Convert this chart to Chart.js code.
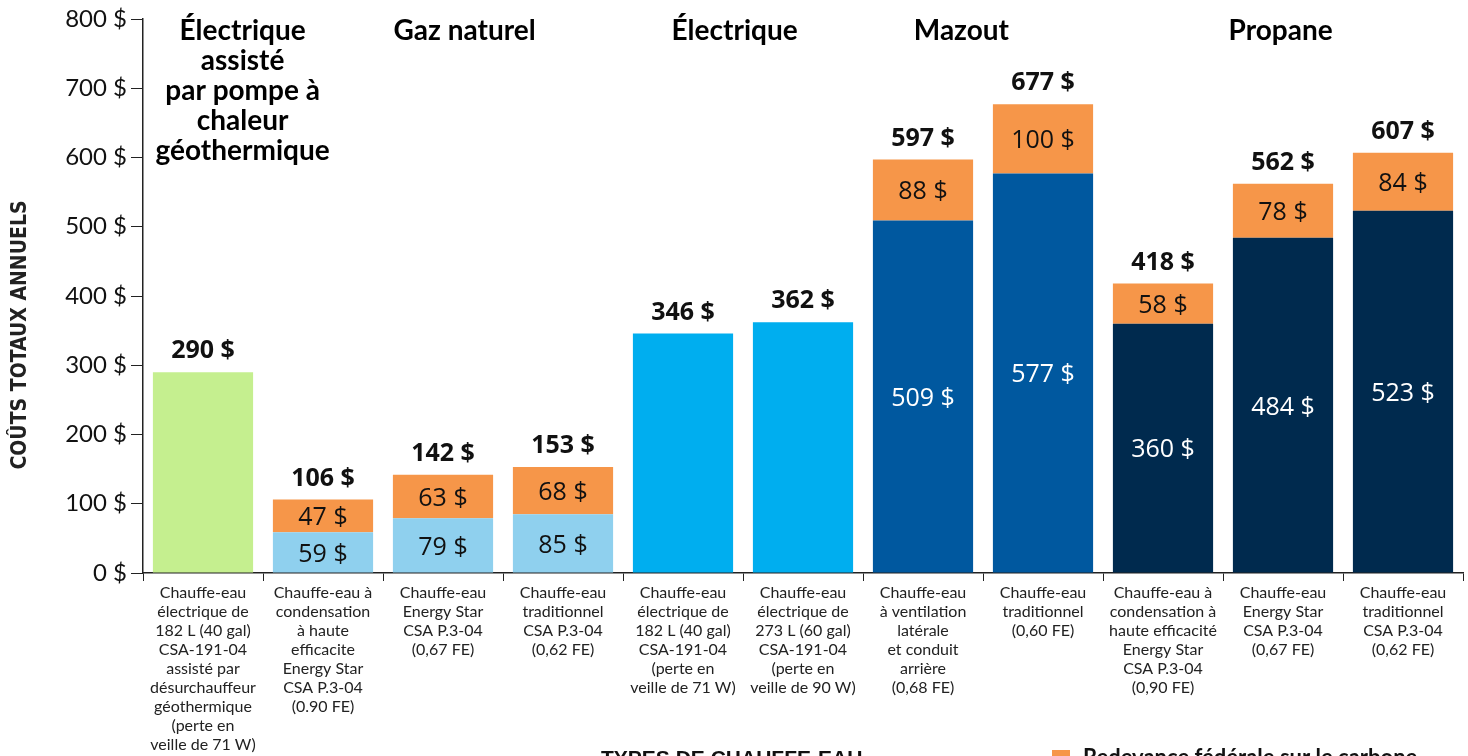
<!DOCTYPE html>
<html>
<head>
<meta charset="utf-8">
<script src="https://cdn.jsdelivr.net/npm/chart.js@4/dist/chart.umd.min.js"></script>
<style>
  html, body { margin: 0; padding: 0; background: #fff; }
  #wrap { width: 1468px; height: 756px; position: relative; }
</style>
</head>
<body>
<div id="wrap"><canvas id="chart"></canvas></div>
<script>
// data
const categories = [
  ["Chauffe-eau", "électrique de", "182 L (40 gal)", "CSA-191-04", "assisté par", "désurchauffeur", "géothermique", "(perte en", "veille de 71 W)"],
  ["Chauffe-eau à", "condensation", "à haute", "efficacite", "Energy Star", "CSA P.3-04", "(0.90 FE)"],
  ["Chauffe-eau", "Energy Star", "CSA P.3-04", "(0,67 FE)"],
  ["Chauffe-eau", "traditionnel", "CSA P.3-04", "(0,62 FE)"],
  ["Chauffe-eau", "électrique de", "182 L (40 gal)", "CSA-191-04", "(perte en", "veille de 71 W)"],
  ["Chauffe-eau", "électrique de", "273 L (60 gal)", "CSA-191-04", "(perte en", "veille de 90 W)"],
  ["Chauffe-eau", "à ventilation", "latérale", "et conduit", "arrière", "(0,68 FE)"],
  ["Chauffe-eau", "traditionnel", "(0,60 FE)"],
  ["Chauffe-eau à", "condensation à", "haute efficacité", "Energy Star", "CSA P.3-04", "(0,90 FE)"],
  ["Chauffe-eau", "Energy Star", "CSA P.3-04", "(0,67 FE)"],
  ["Chauffe-eau", "traditionnel", "CSA P.3-04", "(0,62 FE)"]
];
const baseCosts    = [290, 59, 79, 85, 346, 362, 509, 577, 360, 484, 523];
const carbonCharge = [0, 47, 63, 68, 0, 0, 88, 100, 58, 78, 84];
const totalCosts   = [290, 106, 142, 153, 346, 362, 597, 677, 418, 562, 607];
const showBaseLabel = [false, true, true, true, false, false, true, true, true, true, true];

const groupNames = [
  ["Électrique", "assisté", "par pompe à", "chaleur", "géothermique"],
  ["Gaz naturel"],
  ["Électrique"],
  ["Mazout"],
  ["Propane"]
];
const groupAt = [0.33, 2.18, 4.43, 6.32, 8.98];

const yMax = 800;
const yStep = 100;
const yTitle = "COÛTS TOTAUX ANNUELS";
const xTitle = "TYPES DE CHAUFFE-EAU";
const carbonName = "Redevance fédérale sur le carbone";

// styles
const baseColors = ["#c5ef8f", "#8fd0ee", "#8fd0ee", "#8fd0ee", "#00aeef", "#00aeef",
                    "#00589f", "#00589f", "#002a4e", "#002a4e", "#002a4e"];
const orange = "#f69649";
const darkText = ["#00589f", "#002a4e"];
const valueFont = "'Open Sans', 'Noto Sans', sans-serif";

const labelPlugin = {
  id: "labels",
  afterDatasetsDraw(chart) {
    const ctx = chart.ctx;
    const base = chart.getDatasetMeta(0).data;
    const x = chart.scales.x, y = chart.scales.y;
    ctx.save();
    ctx.textAlign = "center";
    ctx.textBaseline = "middle";
    base.forEach((bar, i) => {
      const cx = bar.x;
      // segment labels
      if (showBaseLabel[i]) {
        ctx.font = "25px " + valueFont;
        ctx.fillStyle = darkText.includes(baseColors[i]) ? "#fff" : "#111";
        ctx.fillText(baseCosts[i] + " $", cx, y.getPixelForValue(baseCosts[i] / 2) + 2);
      }
      if (carbonCharge[i]) {
        ctx.font = "25px " + valueFont;
        ctx.fillStyle = "#111";
        ctx.fillText(carbonCharge[i] + " $", cx, y.getPixelForValue(baseCosts[i] + carbonCharge[i] / 2) + 2);
      }
      ctx.font = "bold 25px " + valueFont;
      ctx.fillStyle = "#111";
      ctx.fillText(totalCosts[i] + " $", cx, y.getPixelForValue(totalCosts[i]) - 21);
    });
    // group headings
    ctx.font = "bold 28px Lato, 'Open Sans', sans-serif";
    ctx.fillStyle = "#000";
    groupNames.forEach((lines, g) => {
      const gx = x.getPixelForValue(groupAt[g]);
      lines.forEach((t, k) => ctx.fillText(t, gx, 31 + k * 30));
    });
    // y title
    ctx.save();
    ctx.translate(21, 335);
    ctx.rotate(-Math.PI / 2);
    ctx.font = "bold 21px 'Liberation Sans Narrow', 'DejaVu Sans Condensed', sans-serif";
    ctx.fillStyle = "#222";
    ctx.fillText(yTitle, 0, 0);
    ctx.restore();
    // x title and legend, cut by the bottom edge
    ctx.textAlign = "left";
    ctx.textBaseline = "top";
    ctx.font = "bold 21px 'Liberation Sans', sans-serif";
    ctx.fillStyle = "#111";
    ctx.fillText(xTitle, 601, 749);
    ctx.fillStyle = orange;
    ctx.fillRect(1052, 750, 18, 18);
    ctx.fillStyle = "#111";
    ctx.font = "bold 22px Lato, sans-serif";
    ctx.fillText(carbonName, 1083, 747);
    ctx.restore();
  }
};

new Chart(document.getElementById("chart"), {
  type: "bar",
  data: {
    labels: categories,
    datasets: [
      {
        label: "Coût",
        data: baseCosts,
        backgroundColor: baseColors,
        barPercentage: 0.835,
        categoryPercentage: 1
      },
      {
        label: carbonName,
        data: carbonCharge.map(v => v || null),
        backgroundColor: orange,
        barPercentage: 0.835,
        categoryPercentage: 1
      }
    ]
  },
  options: {
    responsive: true,
    maintainAspectRatio: false,
    animation: false,
    layout: { padding: { top: 19, right: 5, left: 0, bottom: 0 } },
    plugins: { legend: { display: false }, tooltip: { enabled: false } },
    scales: {
      x: {
        stacked: true,
        offset: true,
        grid: { offset: true, drawOnChartArea: false, drawTicks: true, tickLength: 8, color: "#222" },
        border: { color: "#222", width: 1.5 },
        ticks: {
          autoSkip: false, maxRotation: 0, minRotation: 0, padding: 2,
          color: "#222",
          font: { family: "Lato, 'Open Sans', sans-serif", size: 16, lineHeight: 1.19 }
        },
        afterFit(s) { s.height = 183; }
      },
      y: {
        stacked: true,
        min: 0,
        max: yMax,
        grid: { drawOnChartArea: false, drawTicks: true, tickLength: 12, color: "#222" },
        border: { color: "#222", width: 1.5 },
        ticks: {
          stepSize: yStep,
          padding: 4,
          color: "#111",
          font: { family: "Lato, 'Open Sans', sans-serif", size: 24 },
          callback: v => v + " $"
        },
        afterFit(s) { s.width = 143; }
      }
    }
  },
  plugins: [labelPlugin]
});
</script>
</body>
</html>
